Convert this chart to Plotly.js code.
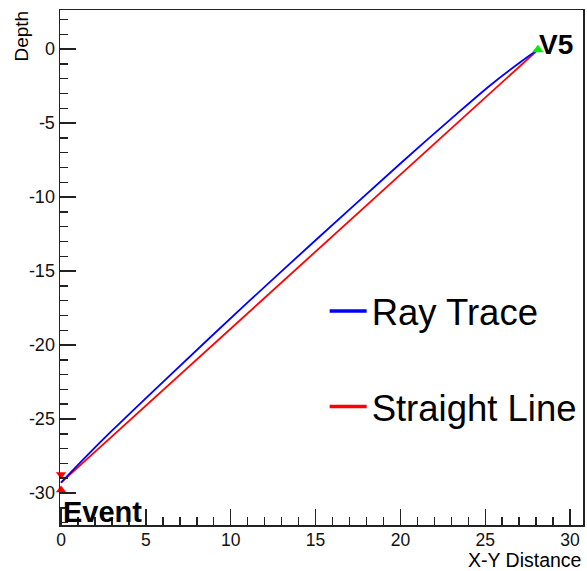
<!DOCTYPE html>
<html>
<head>
<meta charset="utf-8">
<script src="https://cdn.plot.ly/plotly-3.0.1.min.js"></script>
<style>html,body{margin:0;padding:0;background:#fff;}#chart{width:587px;height:571px;}</style>
</head>
<body>
<div id="chart"></div>
<script>
// Data
const rayX = [0, 1.5, 3, 6, 11, 15, 20, 23, 25.3, 27, 28.1];
const rayY = [-29.3, -27.51, -25.79, -22.5, -17.12, -12.92, -7.73, -4.7, -2.44, -0.94, -0.05];
const lineX = [0, 28.1];
const lineY = [-29.3, -0.05];
const eventMarkX = [0, 0];
const eventMarkY = [-28.75, -29.8];
const eventMarkSymbols = ['triangle-down', 'triangle-up'];
const stationX = [28.1];
const stationY = [-0.05];
const seriesNames = ['Ray Trace', 'Straight Line'];
const seriesColors = ['#0000ff', '#ff0000'];
const xTicks = [0, 5, 10, 15, 20, 25, 30];
const yTicks = [0, -5, -10, -15, -20, -25, -30];

const font = 'Arial, "Liberation Sans", sans-serif';

const traces = [
  {x: lineX, y: lineY, mode: 'lines', line: {color: seriesColors[1], width: 1.8}, showlegend: false, hoverinfo: 'skip'},
  {x: rayX, y: rayY, mode: 'lines', line: {color: seriesColors[0], width: 1.8, shape: 'spline', smoothing: 1}, showlegend: false, hoverinfo: 'skip'},
  {x: eventMarkX, y: eventMarkY, mode: 'markers', cliponaxis: false, marker: {symbol: eventMarkSymbols, color: '#ff0000', size: 9}, showlegend: false, hoverinfo: 'skip'},
  {x: stationX, y: stationY, mode: 'markers', cliponaxis: false, marker: {symbol: 'triangle-up', color: '#00ee00', size: 10}, showlegend: false, hoverinfo: 'skip'},
  {x: [null], y: [null], mode: 'lines', name: seriesNames[0], legendgroup: 'a', line: {color: seriesColors[0], width: 3.5}},
  {x: [null], y: [null], mode: 'lines', name: seriesNames[1], legendgroup: 'b', line: {color: seriesColors[1], width: 3.5}}
];

const axisCommon = {
  showgrid: false, zeroline: false, showline: true, linecolor: '#222', linewidth: 1.5,
  mirror: true, ticks: 'inside', ticklen: 16, tickwidth: 1.5, tickcolor: '#222',
  tickfont: {family: font, size: 18, color: '#111'},
  minor: {dtick: 1, ticks: 'inside', ticklen: 8, tickwidth: 1.5, tickcolor: '#222'}
};

const layout = {
  width: 587, height: 571,
  margin: {l: 60, r: 4, t: 10, b: 46},
  paper_bgcolor: '#fff', plot_bgcolor: '#fff',
  showlegend: true,
  legend: {x: 0.506, y: 0.474, xanchor: 'left', yanchor: 'top', font: {family: font, size: 36.5, color: '#000'},
           traceorder: 'grouped', tracegroupgap: 45, itemwidth: 37, bgcolor: 'rgba(0,0,0,0)'},
  xaxis: Object.assign({}, axisCommon, {range: [-0.06, 30.76], tickvals: xTicks, ticktext: xTicks.map(String),
           tickfont: {family: font, size: 17.5, color: '#111'}, ticklabelstandoff: -2}),
  yaxis: Object.assign({}, axisCommon, {range: [-32.16, 2.64], tickvals: yTicks, ticktext: yTicks.map(String), ticklabelstandoff: 0}),
  annotations: [
    {text: 'V5', x: 28.05, y: 0.34, xref: 'x', yref: 'y', xanchor: 'left', yanchor: 'middle', showarrow: false,
     font: {family: font, size: 28, color: '#000', weight: 'bold'}},
    {text: 'Event', x: 0.0, y: -31.28, xref: 'x', yref: 'y', xanchor: 'left', yanchor: 'middle', showarrow: false,
     font: {family: font, size: 29, color: '#000', weight: 'bold'}},
    {text: 'Depth', x: 0, y: 0.9485, xref: 'paper', yref: 'paper', xanchor: 'center', yanchor: 'middle', xshift: -38,
     showarrow: false, textangle: -90, font: {family: font, size: 19, color: '#000'}},
    {text: 'X-Y Distance', x: 1, y: 0, xref: 'paper', yref: 'paper', xanchor: 'right', yanchor: 'middle', yshift: -35, showarrow: false,
     font: {family: font, size: 19.5, color: '#000'}}
  ]
};

Plotly.newPlot('chart', traces, layout, {displayModeBar: false, staticPlot: true});
</script>
</body>
</html>
